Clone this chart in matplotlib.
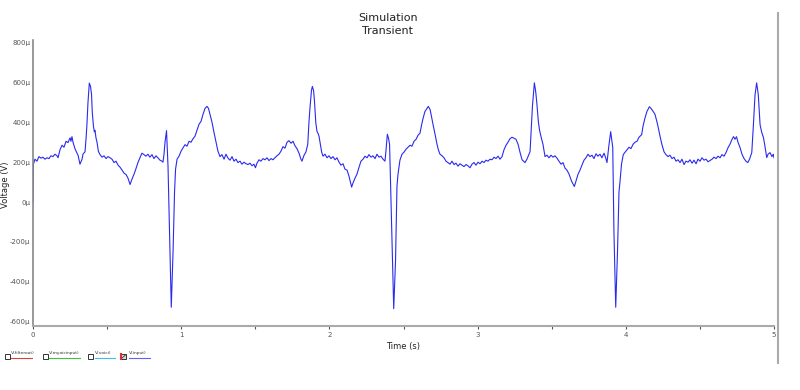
import matplotlib
matplotlib.use("Agg")
import matplotlib.pyplot as plt
from matplotlib.lines import Line2D
from matplotlib.patches import Rectangle

# ---- data ----
time_s = [
    0.000, 0.003, 0.013, 0.027, 0.040, 0.054, 0.067, 0.081, 0.094, 0.108,
    0.121, 0.135, 0.148, 0.162, 0.169, 0.182, 0.196, 0.209, 0.223, 0.236,
    0.250, 0.256, 0.263, 0.270, 0.283, 0.297, 0.304, 0.317, 0.331, 0.337,
    0.351, 0.358, 0.364, 0.371, 0.380, 0.388, 0.395, 0.400, 0.408, 0.414,
    0.418, 0.425, 0.432, 0.441, 0.452, 0.466, 0.479, 0.493, 0.506, 0.520,
    0.533, 0.547, 0.560, 0.574, 0.587, 0.601, 0.614, 0.628, 0.641, 0.655,
    0.668, 0.682, 0.695, 0.709, 0.722, 0.735, 0.749, 0.762, 0.776, 0.789,
    0.803, 0.816, 0.830, 0.843, 0.857, 0.870, 0.877, 0.884, 0.891, 0.901,
    0.911, 0.921, 0.933, 0.945, 0.955, 0.962, 0.972, 0.985, 0.999, 1.012,
    1.026, 1.039, 1.053, 1.066, 1.080, 1.093, 1.107, 1.120, 1.134, 1.147,
    1.161, 1.174, 1.184, 1.194, 1.208, 1.221, 1.235, 1.248, 1.262, 1.275,
    1.289, 1.302, 1.316, 1.329, 1.343, 1.356, 1.370, 1.383, 1.397, 1.410,
    1.424, 1.437, 1.451, 1.464, 1.478, 1.491, 1.501, 1.511, 1.525, 1.538,
    1.552, 1.565, 1.579, 1.592, 1.606, 1.619, 1.633, 1.646, 1.660, 1.673,
    1.687, 1.700, 1.714, 1.727, 1.741, 1.754, 1.768, 1.781, 1.795, 1.808,
    1.815, 1.829, 1.842, 1.854, 1.862, 1.869, 1.879, 1.885, 1.893, 1.899,
    1.908, 1.916, 1.923, 1.930, 1.937, 1.948, 1.957, 1.970, 1.984, 1.997,
    2.011, 2.024, 2.038, 2.051, 2.065, 2.078, 2.092, 2.105, 2.119, 2.132,
    2.150, 2.159, 2.173, 2.186, 2.200, 2.213, 2.227, 2.240, 2.254, 2.267,
    2.281, 2.294, 2.308, 2.321, 2.335, 2.348, 2.362, 2.375, 2.382, 2.391,
    2.399, 2.406, 2.419, 2.434, 2.446, 2.456, 2.463, 2.476, 2.490, 2.503,
    2.517, 2.530, 2.544, 2.557, 2.571, 2.585, 2.598, 2.611, 2.623, 2.632,
    2.645, 2.659, 2.667, 2.679, 2.686, 2.699, 2.713, 2.726, 2.735, 2.746,
    2.760, 2.773, 2.787, 2.800, 2.814, 2.827, 2.841, 2.854, 2.868, 2.881,
    2.895, 2.908, 2.922, 2.935, 2.949, 2.962, 2.976, 2.989, 3.003, 3.016,
    3.030, 3.043, 3.057, 3.070, 3.084, 3.097, 3.111, 3.124, 3.138, 3.151,
    3.165, 3.178, 3.192, 3.205, 3.219, 3.232, 3.246, 3.259, 3.273, 3.286,
    3.300, 3.320, 3.333, 3.347, 3.354, 3.360, 3.370, 3.383, 3.391, 3.399,
    3.410, 3.418, 3.428, 3.441, 3.455, 3.468, 3.482, 3.495, 3.509, 3.522,
    3.536, 3.549, 3.563, 3.576, 3.590, 3.603, 3.617, 3.635, 3.653, 3.664,
    3.677, 3.691, 3.704, 3.718, 3.731, 3.745, 3.758, 3.772, 3.785, 3.799,
    3.812, 3.826, 3.839, 3.853, 3.863, 3.873, 3.887, 3.898, 3.907, 3.912,
    3.920, 3.932, 3.944, 3.954, 3.961, 3.971, 3.983, 3.995, 4.008, 4.022,
    4.035, 4.049, 4.062, 4.076, 4.089, 4.107, 4.116, 4.130, 4.143, 4.159,
    4.170, 4.186, 4.197, 4.211, 4.220, 4.231, 4.244, 4.258, 4.271, 4.285,
    4.298, 4.312, 4.325, 4.339, 4.352, 4.366, 4.379, 4.393, 4.406, 4.420,
    4.433, 4.447, 4.460, 4.474, 4.487, 4.501, 4.514, 4.528, 4.541, 4.555,
    4.568, 4.582, 4.595, 4.609, 4.622, 4.636, 4.649, 4.663, 4.676, 4.690,
    4.703, 4.717, 4.727, 4.737, 4.747, 4.757, 4.771, 4.784, 4.798, 4.811,
    4.823, 4.835, 4.850, 4.860, 4.872, 4.883, 4.894, 4.906, 4.917, 4.929,
    4.939, 4.951, 4.960, 4.973, 4.986, 4.995, 5.000,
]
voltage_uV = [
    0, 190, 215, 205, 228, 220, 225, 215, 222, 218,
    232, 228, 240, 232, 222, 262, 285, 275, 305, 298,
    322, 305, 328, 300, 268, 245, 235, 190, 215, 240,
    252, 320, 390, 500, 597, 580, 540, 450, 380, 352,
    360, 322, 300, 255, 238, 225, 232, 218, 228, 222,
    215, 198, 205, 185, 175, 160, 145, 138, 120, 88,
    115, 140, 168, 200, 222, 245, 238, 230, 240, 225,
    238, 218, 232, 222, 210, 205, 200, 240, 302, 358,
    180, -150, -528, -250, 50, 165, 215, 230, 255, 272,
    288, 280, 305, 300, 318, 330, 362, 390, 405, 440,
    470, 480, 470, 440, 400, 350, 300, 255, 228, 238,
    215, 240, 220, 210, 228, 205, 215, 198, 205, 190,
    200, 192, 188, 195, 182, 190, 172, 195, 212, 205,
    218, 212, 222, 208, 218, 212, 222, 232, 240, 255,
    278, 270, 300, 308, 295, 305, 282, 268, 245, 215,
    205, 235, 252, 290, 400, 473, 560, 580, 560, 510,
    400, 355, 345, 330, 300, 250, 230, 240, 222, 232,
    218, 228, 212, 222, 200, 185, 192, 165, 160, 130,
    75, 95, 120, 140, 175, 205, 215, 230, 222, 238,
    225, 232, 218, 240, 225, 230, 215, 205, 260, 340,
    320, 290, -100, -535, -300, 80, 140, 210, 240, 250,
    265, 275, 285, 280, 305, 315, 335, 345, 390, 420,
    455, 470, 480, 465, 440, 390, 340, 290, 263, 240,
    232, 222, 205, 198, 190, 205, 188, 195, 180, 192,
    185, 178, 188, 182, 172, 190, 198, 185, 200, 192,
    205, 198, 210, 205, 215, 212, 225, 218, 230, 215,
    228, 262, 285, 300, 318, 325, 320, 315, 290, 250,
    212, 198, 215, 240, 253, 340, 480, 598, 560, 503,
    403, 360, 328, 290, 228, 235, 222, 235, 225, 232,
    220, 205, 190, 198, 170, 160, 140, 103, 78, 105,
    138, 160, 185, 210, 222, 240, 228, 235, 218, 242,
    230, 240, 222, 245, 225, 198, 290, 353, 300, 273,
    -150, -528, -250, 50, 103, 190, 238, 250, 262, 275,
    268, 290, 300, 305, 325, 338, 380, 423, 455, 478,
    470, 453, 440, 400, 370, 330, 288, 252, 238, 228,
    235, 218, 225, 205, 212, 198, 215, 188, 205, 200,
    212, 195, 210, 192, 215, 205, 222, 210, 215, 202,
    208, 215, 225, 218, 230, 222, 238, 230, 248, 273,
    290, 315, 328, 315, 328, 300, 273, 240, 218, 205,
    198, 215, 248, 373, 538, 598, 538, 388, 350, 323,
    280, 223, 240, 248, 228, 240, 222,
]
y_ticks = [-600, -400, -200, 0, 200, 400, 600, 800]
y_tick_labels = ["-600\u00b5", "-400\u00b5", "-200\u00b5", "0\u00b5",
                 "200\u00b5", "400\u00b5", "600\u00b5", "800\u00b5"]
x_ticks = [0, 1, 2, 3, 4, 5]
legend_labels = ["V(filterout)", "V(myoicinput)", "V(voici)", "V(input)"]
legend_colors = ["#e04040", "#40c040", "#40c0e0", "#6060ff"]

plt.rcParams['font.family'] = ['DejaVu Sans']

fig = plt.figure(figsize=(8, 3.9), dpi=100)
ax = fig.add_axes([33 / 800, 1 - 326 / 390, (774 - 33) / 800, (326 - 40) / 390])

ax.plot(time_s, voltage_uV, color="#2a2af0", lw=0.8)

ax.set_xlim(0, 5)
ax.set_ylim(-622, 813)
ax.set_yticks(y_ticks)
ax.set_yticklabels(y_tick_labels)
ax.set_xticks(x_ticks)
ax.set_xticks([0.5, 1.5, 2.5, 3.5, 4.5], minor=True)
ax.tick_params(axis="both", which="both", labelsize=5, colors="#555555",
               length=2, width=0.8, pad=2)
ax.tick_params(axis="y", length=0)
for s in ["top", "right"]:
    ax.spines[s].set_visible(False)
ax.spines["left"].set_color("#888888")
ax.spines["left"].set_linewidth(1.2)
ax.spines["bottom"].set_color("#aaaaaa")
ax.spines["bottom"].set_linewidth(1.5)

ax.set_xlabel("Time (s)", fontsize=6, color="#222222", labelpad=3)
fig.text(6 / 800, 1 - 185 / 390, "Voltage (V)", rotation=90, ha="center",
         va="center", fontsize=6, color="#222222")

fig.text(388 / 800, 1 - 18 / 390, "Simulation", ha="center", va="center",
         fontsize=8, color="#222222")
fig.text(388 / 800, 1 - 31 / 390, "Transient", ha="center", va="center",
         fontsize=8, color="#222222")

# right splitter line
fig.add_artist(Line2D([777.5 / 800, 777.5 / 800], [1 - 13 / 390, 1 - 363 / 390],
                      color="#aaaaaa", lw=1.5))

# legend row
box_x = [5, 43, 88, 121]
text_x = [11, 49, 95, 129]
text_w = [21, 31, 20, 21]
for i, lab in enumerate(legend_labels):
    bx = box_x[i] / 800
    by = 1 - 359 / 390
    fig.add_artist(Rectangle((bx, by), 5 / 800, 5 / 390, transform=fig.transFigure,
                             fill=(i == 3), facecolor="#d9d9d9" if i == 3 else "none",
                             edgecolor="#333333", lw=0.7))
    if i == 3:
        fig.add_artist(Line2D([bx, bx], [by, by + 5 / 390], color="#e03030", lw=1.5))
        fig.add_artist(Line2D([bx + 1 / 800, bx + 4.5 / 800],
                              [by + 1 / 390, by + 4 / 390], color="#333333", lw=0.6))
    fig.text(text_x[i] / 800, 1 - 353 / 390, lab, fontsize=3.2, color="#333333",
             ha="left", va="center")
    fig.add_artist(Line2D([text_x[i] / 800, (text_x[i] + text_w[i]) / 800],
                          [1 - 357.5 / 390, 1 - 357.5 / 390],
                          color=legend_colors[i], lw=0.8))

fig.savefig("out.png", dpi=100)
